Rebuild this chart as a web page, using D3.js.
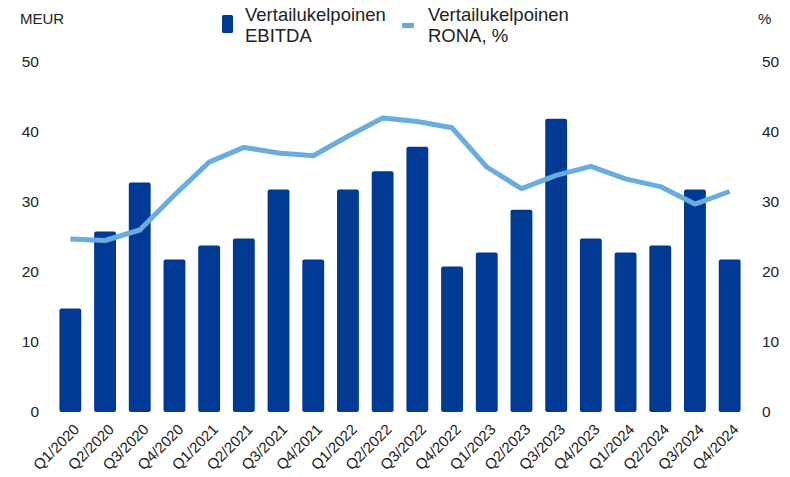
<!DOCTYPE html>
<html>
<head>
<meta charset="utf-8">
<script src="https://cdn.jsdelivr.net/npm/d3@7"></script>
<style>
  body { margin: 0; background: #fff; }
  text { font-family: "Liberation Sans", Arial, sans-serif; fill: #222; }
</style>
</head>
<body>
<div id="chart"></div>
<script>
// Data
var quarters = ["Q1/2020", "Q2/2020", "Q3/2020", "Q4/2020", "Q1/2021", "Q2/2021", "Q3/2021", "Q4/2021",
    "Q1/2022", "Q2/2022", "Q3/2022", "Q4/2022", "Q1/2023", "Q2/2023", "Q3/2023", "Q4/2023",
    "Q1/2024", "Q2/2024", "Q3/2024", "Q4/2024"];
var ebitda = [14.8, 25.8, 32.8, 21.8, 23.8, 24.8, 31.8, 21.8, 31.8, 34.4, 37.9, 20.8, 22.8, 28.9, 41.9, 24.8, 22.8, 23.8, 31.8, 21.8];
var rona = [24.7, 24.5, 26.0, 31.0, 35.7, 37.8, 37.0, 36.6, 39.4, 42.0, 41.5, 40.6, 35.0, 31.9, 33.8, 35.1, 33.3, 32.2, 29.7, 31.5];
var yTicks = [0, 10, 20, 30, 40, 50];

var svgWidth = 790;
var svgHeight = 477;
var margin = { top: 62, right: 43, bottom: 65, left: 53 };
var width = svgWidth - margin.left - margin.right;
var height = svgHeight - margin.top - margin.bottom;

var svg = d3.select("#chart")
    .append("svg")
    .attr("width", svgWidth)
    .attr("height", svgHeight);
var chart = svg.append("g")
    .attr("transform", "translate(" + margin.left + "," + margin.top + ")");

var xScale = d3.scaleBand().domain(quarters).range([0, width]).paddingInner(0.37).paddingOuter(0.185);
var yLeft = d3.scaleLinear().domain([0, 50]).range([height, 0]);
var yRight = d3.scaleLinear().domain([0, 50]).range([height, 0]);

// Bars
chart.selectAll("rect.bar")
    .data(ebitda)
    .enter()
    .append("rect")
    .attr("class", "bar")
    .attr("x", function (d, i) { return xScale(quarters[i]); })
    .attr("y", function (d) { return yLeft(d); })
    .attr("width", xScale.bandwidth())
    .attr("height", function (d) { return height - yLeft(d); })
    .attr("rx", 2)
    .attr("fill", "#003a94");

// Line
var line = d3.line()
    .x(function (d, i) { return xScale(quarters[i]) + xScale.bandwidth() / 2; })
    .y(function (d) { return yRight(d); });

chart.append("path")
    .datum(rona)
    .attr("d", line)
    .attr("fill", "none")
    .attr("stroke", "#68ace0")
    .attr("stroke-width", 5)
    .attr("stroke-linejoin", "round");

// Axes (text only)
var leftAxis = d3.axisLeft(yLeft).tickValues(yTicks).tickSize(0).tickPadding(14);
var rightAxis = d3.axisRight(yRight).tickValues(yTicks).tickSize(0).tickPadding(15);
var bottomAxis = d3.axisBottom(xScale).tickSize(0).tickPadding(10);

var gl = chart.append("g").call(leftAxis);
var gr = chart.append("g").attr("transform", "translate(" + width + ",0)").call(rightAxis);
[gl, gr].forEach(function (g) {
    g.select(".domain").remove();
    g.selectAll("text").style("font-size", "15.5px").attr("fill", "#222");
});

var gb = chart.append("g").attr("transform", "translate(0," + height + ")").call(bottomAxis);
gb.select(".domain").remove();
gb.selectAll("text")
    .style("font-size", "15px")
    .attr("fill", "#222")
    .style("text-anchor", "end")
    .attr("dx", "-6")
    .attr("dy", "10")
    .attr("transform", "rotate(-45)");

// Unit labels
svg.append("text").attr("x", 20).attr("y", 24).style("font-size", "15px").text("MEUR");
svg.append("text").attr("x", 758).attr("y", 24).style("font-size", "15px").text("%");

// Legend
var legend = svg.append("g");
legend.append("rect").attr("x", 222).attr("y", 15).attr("width", 11).attr("height", 18).attr("rx", 1.5).attr("fill", "#003a94");
legend.append("text").attr("x", 245).attr("y", 21).style("font-size", "18.5px").text("Vertailukelpoinen");
legend.append("text").attr("x", 245).attr("y", 42).style("font-size", "18.5px").text("EBITDA");
legend.append("rect").attr("x", 402).attr("y", 23).attr("width", 12).attr("height", 5).attr("fill", "#68ace0");
legend.append("text").attr("x", 428).attr("y", 21).style("font-size", "18.5px").text("Vertailukelpoinen");
legend.append("text").attr("x", 428).attr("y", 42).style("font-size", "18.5px").text("RONA, %");
</script>
</body>
</html>
